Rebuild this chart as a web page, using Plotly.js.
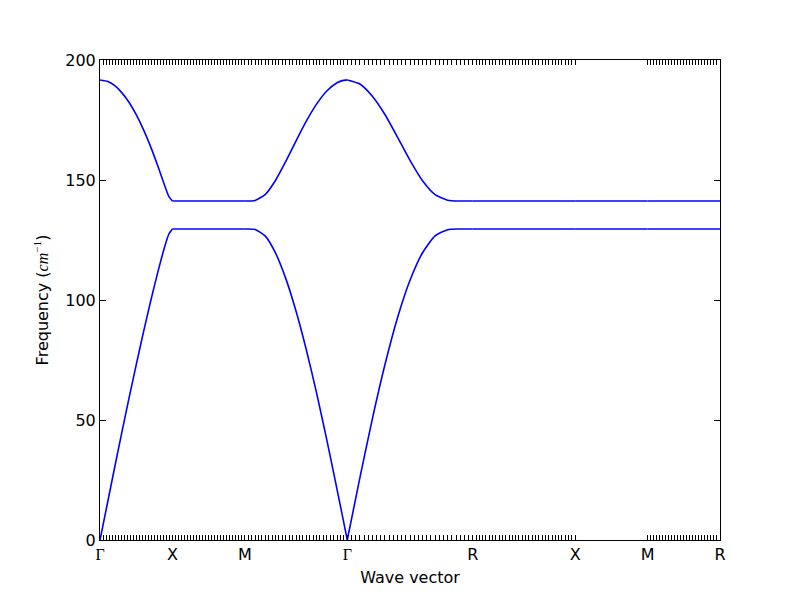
<!DOCTYPE html>
<html>
<head>
<meta charset="utf-8">
<script src="https://cdn.plot.ly/plotly-3.0.1.min.js"></script>
<style>html,body{margin:0;padding:0;background:#fff;}#chart{width:800px;height:600px;}</style>
</head>
<body>
<div id="chart"></div>
<script>
// High-symmetry points along the path (path distance, in units of Γ-X)
const symPos = [0, 1, 2, 3.4142, 5.1463, 6.5605, 7.5605, 8.5605];
const symLabels = ['Γ', 'X', 'M', 'Γ', 'R', 'X', 'M', 'R'];
// number of q-point intervals drawn as ticks on each segment
const tickCounts = [24, 24, 30, 30, 31, 0, 24];

// sampled q positions along the path
const qpos = [
  0, 0.1, 0.2, 0.3, 0.4, 0.5, 0.6, 0.7, 0.8, 0.9, 0.95, 1,
  2,
  2.1414, 2.2828, 2.4243, 2.5657, 2.7071, 2.8485, 2.9899, 3.1314, 3.2728, 3.3435, 3.4142,
  3.5874, 3.7606, 3.9338, 4.1070, 4.2802, 4.4535, 4.6267, 4.7999, 4.9731, 5.1463,
  6.5605, 7.5605, 8.5605
];
// acoustic (lower) band, cm^-1
const lowBand = [
  0, 14.9, 29.9, 44.6, 59.0, 73.0, 86.6, 99.6, 111.8, 122.9, 127.4, 129.6,
  129.6,
  129.4, 126.6, 119.5, 108.9, 95.3, 79.3, 61.3, 41.7, 21.1, 10.6, 0,
  25.8, 50.5, 73.0, 92.5, 108.2, 119.7, 126.7, 129.3, 129.6, 129.6,
  129.6, 129.6, 129.6
];
// optical (upper) band, cm^-1
const highBand = [
  191.7, 191.1, 189.4, 186.4, 182.4, 177.2, 171.0, 163.8, 155.7, 147.1, 143.2, 141.25,
  141.25,
  141.5, 144.0, 149.9, 157.8, 166.3, 174.5, 181.6, 187.1, 190.5, 191.4, 191.7,
  190.0, 184.9, 177.3, 167.9, 158.2, 149.7, 143.9, 141.6, 141.25, 141.25,
  141.25, 141.25, 141.25
];

const traces = [];
const eps = 1e-6;
[lowBand, highBand].forEach(function (band) {
  for (let s = 0; s < symPos.length - 1; s++) {
    const xs = [], ys = [];
    for (let i = 0; i < qpos.length; i++) {
      if (qpos[i] >= symPos[s] - eps && qpos[i] <= symPos[s + 1] + eps) {
        xs.push(qpos[i]); ys.push(band[i]);
      }
    }
    traces.push({
      x: xs, y: ys, type: 'scatter', mode: 'lines',
      line: {color: '#0000ff', width: 1.6, shape: 'spline', smoothing: 0.6},
      showlegend: false, hoverinfo: 'skip', cliponaxis: true
    });
  }
});

// x ticks: one at each q-point; labels only at high-symmetry points
const tickvals = [], ticktext = [];
function lab(t) {
  return t === 'Γ' ? '<span style="font-family:\'Liberation Serif\', serif">Γ</span>' : t;
}
for (let s = 0; s < symPos.length - 1; s++) {
  tickvals.push(symPos[s]); ticktext.push(lab(symLabels[s]));
  const n = tickCounts[s];
  for (let k = 1; k < n; k++) {
    tickvals.push(symPos[s] + (symPos[s + 1] - symPos[s]) * k / n);
    ticktext.push('');
  }
}
tickvals.push(symPos[symPos.length - 1]);
ticktext.push(lab(symLabels[symLabels.length - 1]));

const layout = {
  width: 800, height: 600,
  margin: {l: 100, r: 80, t: 60, b: 60},
  paper_bgcolor: '#ffffff', plot_bgcolor: '#ffffff',
  font: {family: 'DejaVu Sans', size: 16, color: '#000000'},
  xaxis: {
    range: [0, symPos[symPos.length - 1]],
    tickmode: 'array', tickvals: tickvals, ticktext: ticktext, tickangle: 0,
    ticks: 'inside', ticklen: 5, tickwidth: 1, tickcolor: '#000',
    showline: true, linecolor: '#000', linewidth: 1, mirror: 'ticks',
    showgrid: false, zeroline: false,
    tickfont: {family: 'DejaVu Sans', size: 16, color: '#000'},
    title: {text: 'Wave vector', font: {family: 'DejaVu Sans', size: 16, color: '#000'}, standoff: 8}
  },
  yaxis: {
    range: [0, 200],
    tickmode: 'array', tickvals: [0, 50, 100, 150, 200],
    ticks: 'inside', ticklen: 6, tickwidth: 1, tickcolor: '#000',
    showline: true, linecolor: '#000', linewidth: 1, mirror: 'ticks',
    showgrid: false, zeroline: false,
    tickfont: {family: 'DejaVu Sans', size: 16, color: '#000'},
    title: {
      text: 'Frequency (<span style="font-family:\'Liberation Serif\', serif"><i>cm</i><sup>−1</sup></span>)',
      font: {family: 'DejaVu Sans', size: 16, color: '#000'}, standoff: 12
    }
  }
};

Plotly.newPlot('chart', traces, layout, {displayModeBar: false, staticPlot: true});
</script>
</body>
</html>
